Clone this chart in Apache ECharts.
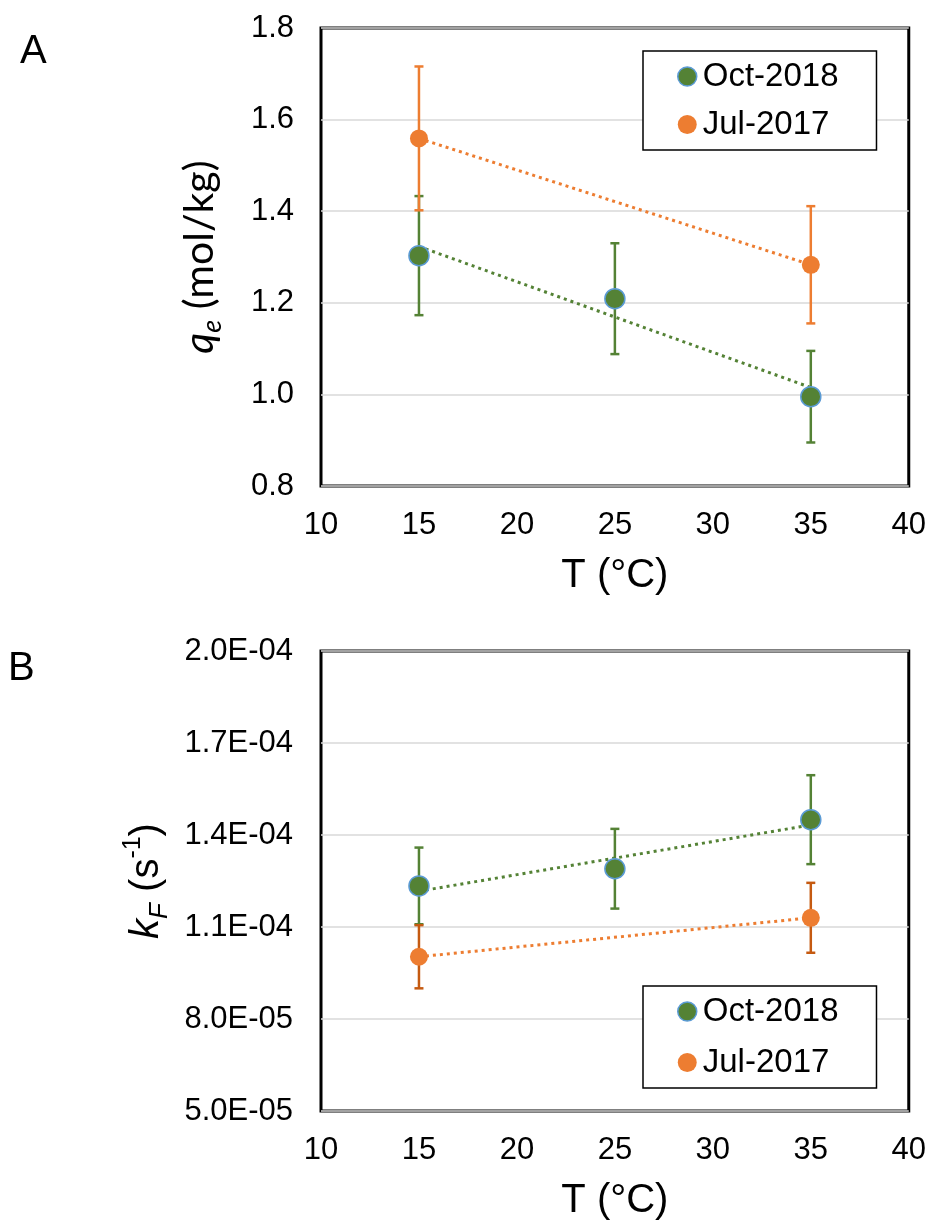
<!DOCTYPE html>
<html>
<head>
<meta charset="utf-8">
<script src="https://cdn.jsdelivr.net/npm/echarts@6/dist/echarts.min.js"></script>
<style>
  html, body { margin: 0; padding: 0; background: #fff; }
  #chart { width: 929px; height: 1222px; }
</style>
</head>
<body>
<div id="chart"></div>
<script>
// temperatures (°C)
const temps = [15, 25, 35];
const tempsJul = [15, 35];

// panel A: qe (mol/kg)
const qeOct = [1.303, 1.209, 0.995];
const qeOctErr = [0.130, 0.121, 0.100];
const qeJul = [1.559, 1.283];
const qeJulErr = [0.157, 0.128];

// panel B: kF (s-1)
const kfOct = [1.234e-4, 1.290e-4, 1.450e-4];
const kfOctErr = [1.25e-5, 1.30e-5, 1.45e-5];
const kfJul = [1.003e-4, 1.130e-4];
const kfJulErr = [1.03e-5, 1.14e-5];

const kfTicks = [5e-5, 8e-5, 1.1e-4, 1.4e-4, 1.7e-4, 2e-4];
const seriesNames = ['Oct-2018', 'Jul-2017'];

const GREEN = '#548235', ORANGE = '#ed7d31', DARK_ORANGE = '#c55a11', BLUE = '#5b9bd5';
const FONT = 'Liberation Sans';

function pts(xs, ys) {
  return xs.map((x, i) => [x, ys[i]]);
}
function errPts(xs, ys, es) {
  return xs.map((x, i) => [x, ys[i], es[i]]);
}
// linear trendline (least squares) between first and last x
function trend(xs, ys) {
  const n = xs.length;
  const mx = xs.reduce((a, b) => a + b, 0) / n;
  const my = ys.reduce((a, b) => a + b, 0) / n;
  let sxy = 0, sxx = 0;
  for (let i = 0; i < n; i++) {
    sxy += (xs[i] - mx) * (ys[i] - my);
    sxx += (xs[i] - mx) * (xs[i] - mx);
  }
  const b = sxy / sxx, a = my - b * mx;
  return [[xs[0], a + b * xs[0]], [xs[n - 1], a + b * xs[n - 1]]];
}

function errorBars(color) {
  return function (params, api) {
    const x = api.value(0), y = api.value(1), e = api.value(2);
    const hi = api.coord([x, y + e]);
    const lo = api.coord([x, y - e]);
    const cap = 4.5;
    const style = { stroke: color, lineWidth: 2.5 };
    return {
      type: 'group',
      children: [
        { type: 'line', shape: { x1: hi[0], y1: hi[1], x2: lo[0], y2: lo[1] }, style: style },
        { type: 'line', shape: { x1: hi[0] - cap, y1: hi[1], x2: hi[0] + cap, y2: hi[1] }, style: style },
        { type: 'line', shape: { x1: lo[0] - cap, y1: lo[1], x2: lo[0] + cap, y2: lo[1] }, style: style }
      ]
    };
  };
}

function sciLabel(v) {
  const parts = v.toExponential(1).split('e');
  const exp = parseInt(parts[1], 10);
  const sign = exp < 0 ? '-' : '+';
  return parts[0] + 'E' + sign + String(Math.abs(exp)).padStart(2, '0');
}

function xAxisFor(gridIndex) {
  return {
    type: 'value', gridIndex: gridIndex, min: 10, max: 40, interval: 5,
    axisLine: { show: false }, axisTick: { show: false }, splitLine: { show: false },
    axisLabel: { color: '#000', fontSize: 31, fontFamily: FONT, margin: 24 },
    name: 'T (°C)', nameLocation: 'middle', nameGap: 70,
    nameTextStyle: { color: '#000', fontSize: 40, fontFamily: FONT }
  };
}

function legendFor(top, gap) {
  return {
    orient: 'vertical', left: 643, top: top,
    padding: [9, 38, 9, 34], itemGap: gap,
    itemWidth: 19, itemHeight: 19, icon: 'circle',
    borderColor: '#000', borderWidth: 1.5, backgroundColor: '#fff',
    textStyle: { color: '#000', fontSize: 33, fontFamily: FONT, lineHeight: 30, padding: [0, 0, 0, 1] },
    data: [
      { name: seriesNames[0], itemStyle: { color: GREEN, borderColor: BLUE, borderWidth: 1.5 } },
      { name: seriesNames[1], itemStyle: { color: ORANGE, borderWidth: 0 } }
    ]
  };
}

function panelSeries(idx, octY, octE, julY, julE, julErrColor) {
  const dotted = { width: 3, type: [3, 4] };
  return [
    { name: 'err-oct-' + idx, type: 'custom', xAxisIndex: idx, yAxisIndex: idx, z: 1,
      renderItem: errorBars(GREEN), data: errPts(temps, octY, octE) },
    { name: 'err-jul-' + idx, type: 'custom', xAxisIndex: idx, yAxisIndex: idx, z: 1,
      renderItem: errorBars(julErrColor), data: errPts(tempsJul, julY, julE) },
    { name: 'trend-oct-' + idx, type: 'line', xAxisIndex: idx, yAxisIndex: idx, z: 2,
      showSymbol: false, lineStyle: Object.assign({ color: GREEN }, dotted), data: trend(temps, octY) },
    { name: 'trend-jul-' + idx, type: 'line', xAxisIndex: idx, yAxisIndex: idx, z: 2,
      showSymbol: false, lineStyle: Object.assign({ color: ORANGE }, dotted), data: trend(tempsJul, julY) },
    { name: seriesNames[0], type: 'scatter', xAxisIndex: idx, yAxisIndex: idx, z: 3,
      symbolSize: 20, itemStyle: { color: GREEN, borderColor: BLUE, borderWidth: 1.5, opacity: 1 },
      data: pts(temps, octY) },
    { name: seriesNames[1], type: 'scatter', xAxisIndex: idx, yAxisIndex: idx, z: 3,
      symbolSize: 18, itemStyle: { color: ORANGE, opacity: 1 },
      data: pts(tempsJul, julY) }
  ];
}

const chart = echarts.init(document.getElementById('chart'), null, { renderer: 'canvas' });

const option = {
  animation: false,
  backgroundColor: '#fff',
  grid: [
    { left: 321, top: 28, width: 588, height: 458, show: true, borderColor: '#000', borderWidth: 3, backgroundColor: 'transparent' },
    { left: 321, top: 651, width: 588, height: 460, show: true, borderColor: '#000', borderWidth: 3, backgroundColor: 'transparent' }
  ],
  xAxis: [xAxisFor(0), xAxisFor(1)],
  yAxis: [
    {
      type: 'value', gridIndex: 0, min: 0.8, max: 1.8, interval: 0.2,
      axisLine: { show: false }, axisTick: { show: false },
      splitLine: { lineStyle: { color: '#d9d9d9', width: 1.5 } },
      axisLabel: { color: '#000', fontSize: 31, fontFamily: FONT, margin: 27, formatter: v => v.toFixed(1) },
      name: '{i|q}{s|e}{n| (mol/kg)}', nameLocation: 'middle', nameRotate: 90, nameGap: 95,
      nameTextStyle: {
        rich: {
          i: { fontSize: 41, fontStyle: 'italic', fontFamily: 'Lato', color: '#000', lineHeight: 52 },
          s: { fontSize: 27, fontStyle: 'italic', fontFamily: 'Lato', color: '#000', lineHeight: 26, verticalAlign: 'bottom' },
          n: { fontSize: 41, fontFamily: 'Lato', color: '#000', lineHeight: 52 }
        }
      }
    },
    {
      type: 'value', gridIndex: 1, min: 5e-5, max: 2e-4,
      axisLine: { show: false },
      axisTick: { show: false, customValues: kfTicks },
      splitLine: { lineStyle: { color: '#d9d9d9', width: 1.5 } },
      axisLabel: { color: '#000', fontSize: 31, fontFamily: FONT, margin: 28, customValues: kfTicks, formatter: sciLabel },
      name: '{i|k}{s|F}{n| (s}{p|-1}{n|)}', nameLocation: 'middle', nameRotate: 90, nameGap: 148,
      nameTextStyle: {
        rich: {
          i: { fontSize: 40, fontStyle: 'italic', fontFamily: FONT, color: '#000', lineHeight: 52 },
          s: { fontSize: 26, fontStyle: 'italic', fontFamily: FONT, color: '#000', lineHeight: 26, verticalAlign: 'bottom' },
          n: { fontSize: 40, fontFamily: FONT, color: '#000', lineHeight: 52 },
          p: { fontSize: 25, fontFamily: FONT, color: '#000', lineHeight: 30, verticalAlign: 'top' }
        }
      }
    }
  ],
  legend: [legendFor(51, 15), legendFor(986, 18)],
  graphic: [
    { type: 'text', left: 20, top: 32, style: { text: 'A', fontSize: 40, fontFamily: FONT, fill: '#000' } },
    { type: 'text', left: 8, top: 649, style: { text: 'B', fontSize: 40, fontFamily: FONT, fill: '#000' } }
  ],
  series: panelSeries(0, qeOct, qeOctErr, qeJul, qeJulErr, ORANGE)
    .concat(panelSeries(1, kfOct, kfOctErr, kfJul, kfJulErr, DARK_ORANGE))
};

chart.setOption(option);
</script>
</body>
</html>
